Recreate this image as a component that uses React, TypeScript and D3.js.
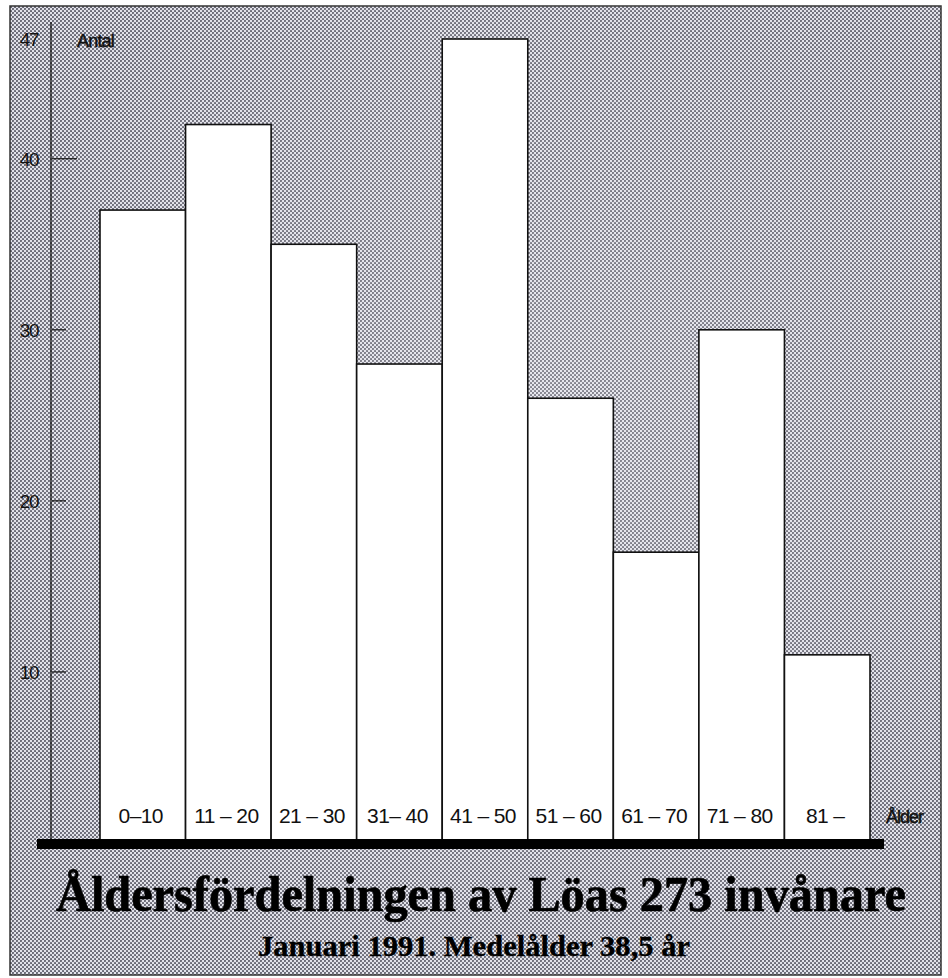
import React from 'react';
import * as d3 from 'd3';

// Age groups and number of inhabitants in Löa, January 1991
const ageGroups = ['0–10', '11 – 20', '21 – 30', '31– 40', '41 – 50', '51 – 60', '61 – 70', '71 – 80', '81 –'];
const counts = [37, 42, 35, 28, 47, 26, 17, 30, 11];
const yTicks = [10, 20, 30, 40, 47];

const title = 'Åldersfördelningen av Löas 273 invånare';
const subtitle = 'Januari 1991. Medelålder 38,5 år';

const W = 948;
const H = 978;

const App = () => {
  const x = d3.scaleBand<string>()
    .domain(ageGroups)
    .range([100, 870])
    .padding(0);

  const y = d3.scaleLinear()
    .domain([0, 47])
    .range([843, 39]);

  const sans = '"Liberation Sans", Arial, sans-serif';
  const serif = '"Liberation Serif", "Times New Roman", serif';

  return (
    <svg width={W} height={H} style={{ position: 'absolute', left: 0, top: 0 }}>
      <defs>
        <pattern id="halftone" width="4" height="4" patternUnits="userSpaceOnUse">
          <rect width="4" height="4" fill="#e2e2ea" />
          <circle cx="1" cy="1" r="1.05" fill="#60606d" />
          <circle cx="3" cy="3" r="1.05" fill="#60606d" />
        </pattern>
        <radialGradient id="sheen" cx="0.55" cy="0.45" r="0.6">
          <stop offset="0" stopColor="#ffffff" stopOpacity="0.2" />
          <stop offset="1" stopColor="#ffffff" stopOpacity="0" />
        </radialGradient>
      </defs>

      <rect x={0} y={0} width={W} height={H} fill="#ffffff" />
      {/* screened background with frame */}
      <rect x={10} y={6} width={931} height={969} fill="url(#halftone)" stroke="#333" strokeWidth={1.5} />
      <rect x={10} y={6} width={931} height={969} fill="url(#sheen)" />

      {/* y axis */}
      <line x1={51} x2={51} y1={22} y2={841} stroke="#111" strokeWidth={1.3} />
      {yTicks.map(t => (
        <g key={t}>
          {t !== 47 && (
            <line x1={52} x2={t === 40 ? 77 : 66} y1={y(t)} y2={y(t)} stroke="#111" strokeWidth={1.2} />
          )}
          <text x={38} y={y(t) + 7} textAnchor="end" fontFamily={sans} fontSize={19}
            fill="#111" style={{ letterSpacing: '-1.5px' }}>{t}</text>
        </g>
      ))}
      <text x={77} y={47} fontFamily={sans} fontSize={18} fill="#111" stroke="#111" strokeWidth={0.5}
        style={{ letterSpacing: '-0.8px' }}>Antal</text>

      {/* bars */}
      {counts.map((c, i) => (
        <rect key={ageGroups[i]}
          x={x(ageGroups[i])}
          y={y(c)}
          width={x.bandwidth()}
          height={y(0) - y(c)}
          fill="#ffffff"
          stroke="#111"
          strokeWidth={1.6} />
      ))}

      {/* category labels */}
      {ageGroups.map(g => (
        <text key={g} x={(x(g) as number) + x.bandwidth() / 2 - 2} y={823} textAnchor="middle"
          fontFamily={sans} fontSize={21} fill="#111" style={{ letterSpacing: '-0.6px' }}>{g}</text>
      ))}
      <text x={886} y={823} fontFamily={sans} fontSize={18} fill="#111" stroke="#111" strokeWidth={0.5}
        style={{ letterSpacing: '-1px' }}>Ålder</text>

      {/* baseline */}
      <rect x={37} y={839} width={847} height={10} fill="#000" />

      {/* titles */}
      <g transform="translate(56,911) scale(1,1.12)">
        <text x={0} y={0} fontFamily={serif} fontWeight="bold" fontSize={45} fill="#000"
          stroke="#000" strokeWidth={0.6}
          textLength={850} lengthAdjust="spacingAndGlyphs">{title}</text>
      </g>
      <g transform="translate(258,956) scale(1,1.12)">
        <text x={0} y={0} fontFamily={serif} fontWeight="bold" fontSize={26} fill="#000"
          stroke="#000" strokeWidth={0.3}
          textLength={432} lengthAdjust="spacingAndGlyphs">{subtitle}</text>
      </g>
    </svg>
  );
};

export default App;
